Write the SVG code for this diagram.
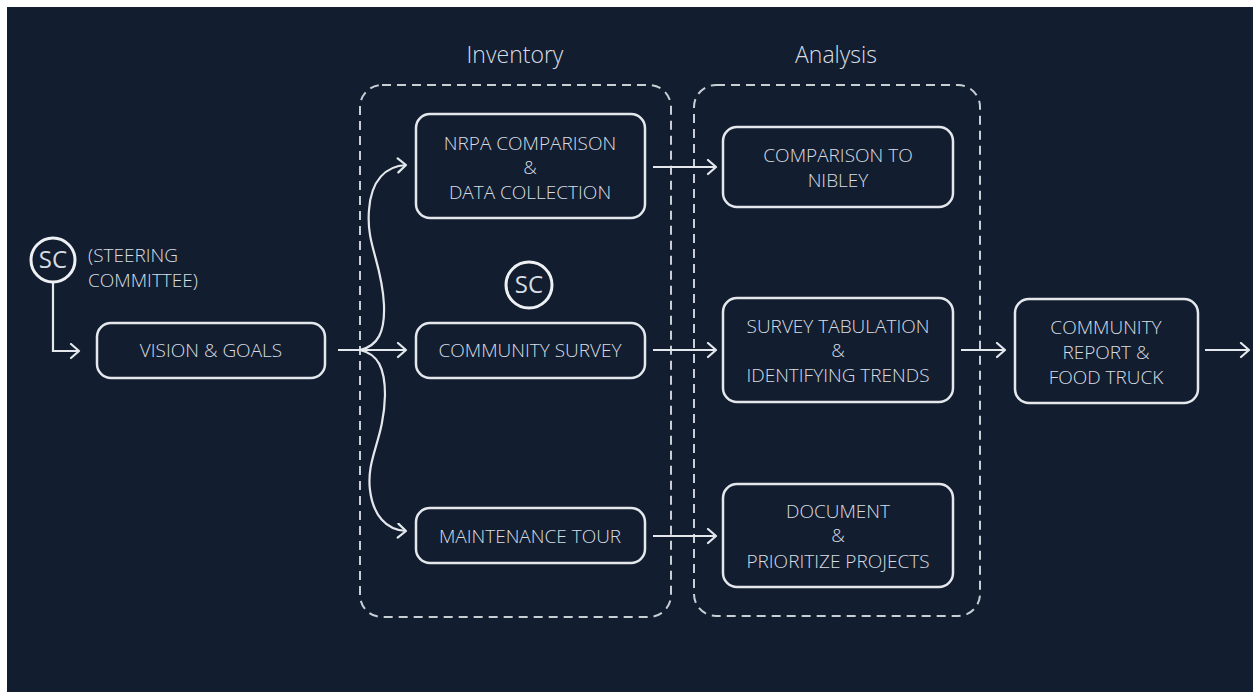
<svg xmlns="http://www.w3.org/2000/svg" width="1253" height="692" viewBox="0 0 1253 692">
<style>
.bg{fill:#121e2f}
.box{fill:none;stroke:#e4e8ec;stroke-width:2.5}
.grp{fill:none;stroke:#c9ced5;stroke-width:2;stroke-dasharray:9 6}
.t{font-family:"Open Sans","Noto Sans","Liberation Sans",sans-serif;font-weight:300;font-size:19px;fill:#d8dde3;text-anchor:middle}
.tl{text-anchor:start}
.title{font-size:23px}
.sc{font-size:24px;font-weight:400}
.c{fill:none;stroke:#eef0f3;stroke-width:3}
.ln{fill:none;stroke:#e4e8ec;stroke-width:2.2;marker-end:url(#ah)}
</style>
<defs>
<marker id="ah" markerUnits="userSpaceOnUse" markerWidth="14" markerHeight="18" refX="11" refY="8" orient="auto" viewBox="0 0 14 18">
<path d="M3,1 L11,8 L3,15" fill="none" stroke="#e4e8ec" stroke-width="2.2" stroke-linecap="round" stroke-linejoin="round"/>
</marker>
</defs>
<rect x="0" y="0" width="1253" height="692" fill="#ffffff"/>
<rect class="bg" x="7" y="7" width="1246" height="685"/>

<g id="group-inventory">
<rect class="grp" x="360" y="85" width="311" height="532" rx="22"/>
<text class="t title" x="515" y="63">Inventory</text>
</g>
<g id="group-analysis">
<rect class="grp" x="694" y="85" width="286" height="531" rx="22"/>
<text class="t title" x="836" y="63">Analysis</text>
</g>

<g id="connectors">
<path class="ln" d="M53,283 L53,351 L79,351"/>
<path class="ln" d="M338,350 L406,350"/>
<path class="ln" d="M360,350 C378,346 385,332 384,305 C382,262 366,245 369,210 C371,180 386,166 406,165"/>
<path class="ln" d="M360,350 C378,354 385,368 385,395 C384,440 366,458 370,490 C373,515 386,530 406,531"/>
<path class="ln" d="M653,167 L716,167"/>
<path class="ln" d="M653,350 L716,350"/>
<path class="ln" d="M653,536 L716,536"/>
<path class="ln" d="M961,350 L1005,350"/>
<path class="ln" d="M1205,350 L1249,350"/>
</g>

<g id="sc-steering">
<circle class="c" cx="53" cy="260" r="22"/>
<text class="t sc" x="53" y="268">SC</text>
<text class="t tl" x="88" y="262">(STEERING</text>
<text class="t tl" x="88" y="287">COMMITTEE)</text>
</g>
<g id="sc-survey">
<circle class="c" cx="529" cy="285" r="23"/>
<text class="t sc" x="529" y="293">SC</text>
</g>

<g id="vision-goals">
<rect class="box" x="97" y="323" width="228" height="55" rx="14"/>
<text class="t" x="211" y="357">VISION &amp; GOALS</text>
</g>
<g id="nrpa">
<rect class="box" x="416" y="114" width="229" height="104" rx="14"/>
<text class="t" x="530" y="150">NRPA COMPARISON</text>
<text class="t" x="530" y="174">&amp;</text>
<text class="t" x="530" y="199">DATA COLLECTION</text>
</g>
<g id="community-survey">
<rect class="box" x="416" y="323" width="229" height="55" rx="14"/>
<text class="t" x="530" y="357">COMMUNITY SURVEY</text>
</g>
<g id="maintenance-tour">
<rect class="box" x="416" y="508" width="229" height="55" rx="14"/>
<text class="t" x="530" y="543">MAINTENANCE TOUR</text>
</g>
<g id="comparison-nibley">
<rect class="box" x="723" y="127" width="230" height="80" rx="14"/>
<text class="t" x="838" y="162">COMPARISON TO</text>
<text class="t" x="838" y="187">NIBLEY</text>
</g>
<g id="survey-tabulation">
<rect class="box" x="723" y="298" width="230" height="104" rx="14"/>
<text class="t" x="838" y="333">SURVEY TABULATION</text>
<text class="t" x="838" y="357">&amp;</text>
<text class="t" x="838" y="382">IDENTIFYING TRENDS</text>
</g>
<g id="document-prioritize">
<rect class="box" x="723" y="484" width="230" height="103" rx="14"/>
<text class="t" x="838" y="518">DOCUMENT</text>
<text class="t" x="838" y="542">&amp;</text>
<text class="t" x="838" y="568">PRIORITIZE PROJECTS</text>
</g>
<g id="community-report">
<rect class="box" x="1015" y="299" width="183" height="104" rx="14"/>
<text class="t" x="1106" y="334">COMMUNITY</text>
<text class="t" x="1106" y="359">REPORT &amp;</text>
<text class="t" x="1106" y="384">FOOD TRUCK</text>
</g>
</svg>
